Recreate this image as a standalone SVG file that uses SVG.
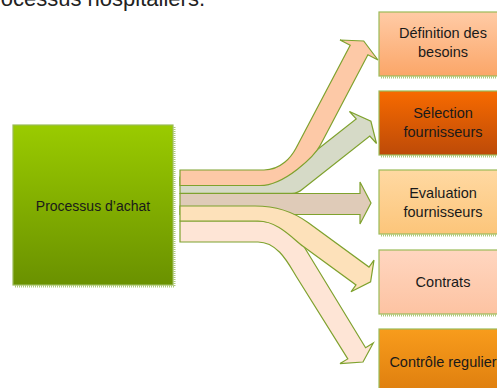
<svg xmlns="http://www.w3.org/2000/svg" width="497" height="388" viewBox="0 0 497 388">
<defs>
<linearGradient id="gGreen" x1="0" y1="0" x2="0" y2="1"><stop offset="0" stop-color="#9acb00"/><stop offset="1" stop-color="#6a9100"/></linearGradient>
<linearGradient id="g1" x1="0" y1="0" x2="0" y2="1"><stop offset="0" stop-color="#ffcba6"/><stop offset="1" stop-color="#fba668"/></linearGradient>
<linearGradient id="g2" x1="0" y1="0" x2="0" y2="1"><stop offset="0" stop-color="#f76a00"/><stop offset="1" stop-color="#bd4a08"/></linearGradient>
<linearGradient id="g3" x1="0" y1="0" x2="0" y2="1"><stop offset="0" stop-color="#ffd9a2"/><stop offset="1" stop-color="#fcc57a"/></linearGradient>
<linearGradient id="g4" x1="0" y1="0" x2="0" y2="1"><stop offset="0" stop-color="#ffd6c0"/><stop offset="1" stop-color="#fdc3a2"/></linearGradient>
<linearGradient id="g5" x1="0" y1="0" x2="0" y2="1"><stop offset="0" stop-color="#f89c1c"/><stop offset="1" stop-color="#de7e0e"/></linearGradient>
</defs>
<style>
.box{stroke:#9bbb59;stroke-width:1.2}
.shadow{fill:none;stroke:#9bbb59;stroke-width:2;stroke-dasharray:1 1;opacity:.8}
.arrow{stroke:#7fa22e;stroke-width:1.2;stroke-linejoin:miter}
.lbl{font-family:"Liberation Sans",Arial,sans-serif;font-size:14.5px;fill:#1a1a1a;text-anchor:middle}
.title{font-family:"Liberation Sans",Arial,sans-serif;font-size:22px;fill:#222;text-anchor:end}
</style>
<text class="title" x="205" y="6">ocessus hospitaliers.</text>

<g id="processus">
<path class="shadow" d="M174.5,127 V286.5 H15"/>
<rect x="13" y="125" width="160" height="160" fill="url(#gGreen)" class="box"/>
<text x="93" y="211" font-family="Liberation Sans, Arial, sans-serif" font-size="14" fill="#1a1a1a" text-anchor="middle">Processus d’achat</text>
</g>

<g id="connectors">
<path id="arrow-evaluation" class="arrow" fill="#dfcbb8" d="M180,193.5 H360 V182 L371,203 L360,224 V214.5 H180 Z"/>
<path id="arrow-controle" class="arrow" fill="#fee5d6" d="M180,221 H255 C278,221 293,230 303,245 L365.6,347.7 L373.3,343 L363,362 L340,363.6 L347.8,358.9 L296,276 C288.6,264 278,242 258,242 H180 Z"/>
<path id="arrow-contrats" class="arrow" fill="#fde1ba" d="M180,206 H255 C278,206 295,213 308,222.6 L369,267.1 L374,260.2 L370.6,281.9 L351,291.8 L356,284.9 L303,246.3 C293,239 278,221 258,221 H180 Z"/>
<path id="arrow-selection" class="arrow" fill="#d6dac7" d="M180,177 H280 C294,177 309,156.2 316.8,150 L356.2,118.9 L349.5,111.5 L370.9,121.3 L376.5,143.5 L369.8,136.1 L302.7,189 Q298,193.3 292,193.3 H180 Z"/>
<path id="arrow-definition" class="arrow" fill="#fdc9a7" d="M180,170 H264 C281,170 291.4,156.9 296.1,148 L350.2,45.3 L340,40 L363.7,41 L378,60 L367.9,54.7 L320.4,145 C314.8,155.6 285,185.5 260,185.5 H180 Z"/>
</g>

<g id="definition">
<path class="shadow" d="M381,77.5 H497"/>
<rect x="379" y="12" width="128" height="64" fill="url(#g1)" class="box"/>
<text class="lbl" x="443" y="38">Définition des</text>
<text class="lbl" x="443" y="57">besoins</text>
</g>
<g id="selection">
<path class="shadow" d="M381,156.5 H497"/>
<rect x="379" y="91" width="128" height="64" fill="url(#g2)" class="box"/>
<text class="lbl" x="443" y="118">Sélection</text>
<text class="lbl" x="443" y="137">fournisseurs</text>
</g>
<g id="evaluation">
<path class="shadow" d="M381,235.5 H497"/>
<rect x="379" y="170" width="128" height="64" fill="url(#g3)" class="box"/>
<text class="lbl" x="443" y="198">Evaluation</text>
<text class="lbl" x="443" y="216.5">fournisseurs</text>
</g>
<g id="contrats">
<path class="shadow" d="M381,315.5 H497"/>
<rect x="379" y="250" width="128" height="64" fill="url(#g4)" class="box"/>
<text class="lbl" x="443" y="286.5">Contrats</text>
</g>
<g id="controle">
<rect x="379" y="329" width="128" height="64" fill="url(#g5)" class="box"/>
<text class="lbl" x="443" y="366.5">Contrôle regulier</text>
</g>
</svg>
